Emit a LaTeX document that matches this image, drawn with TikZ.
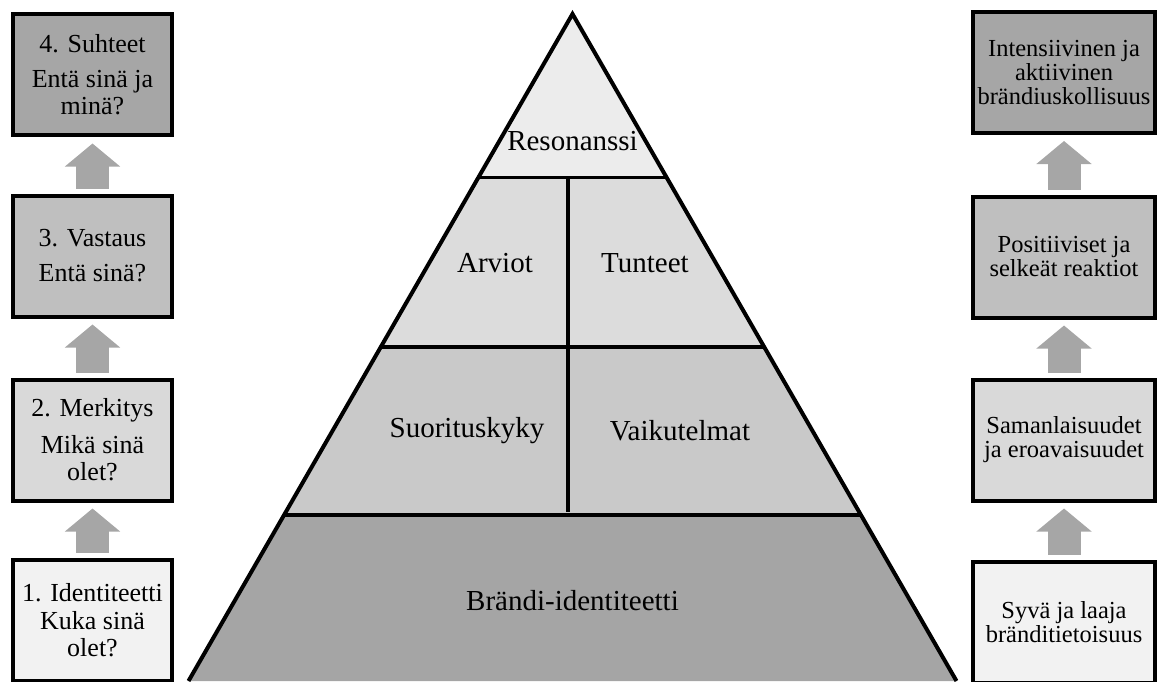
\documentclass[tikz,border=0pt]{standalone}
\usepackage{fontspec}
\setmainfont{Liberation Serif}
\usetikzlibrary{calc,arrows.meta}

\definecolor{shadeA}{HTML}{F2F2F2}
\definecolor{shadeB}{HTML}{D9D9D9}
\definecolor{shadeC}{HTML}{BFBFBF}
\definecolor{shadeD}{HTML}{A6A6A6}
\definecolor{pyrA}{HTML}{ECECEC}
\definecolor{pyrB}{HTML}{DCDCDC}
\definecolor{pyrC}{HTML}{C9C9C9}
\definecolor{pyrD}{HTML}{A5A5A5}

\begin{document}
\begin{tikzpicture}[x=1pt,y=-1pt,
  stage/.style={draw,line width=4pt,minimum width=159pt,minimum height=121pt,inner sep=0pt,align=center,font=\fontsize{26}{27}\selectfont},
  result/.style={stage,minimum width=182pt,font=\fontsize{24.5}{24}\selectfont},
  uparrow/.style={shadeD,line width=33pt,-{Triangle[width=54pt,length=23pt]},shorten <=5pt,shorten >=6pt},
  level/.style={font=\fontsize{29}{32}\selectfont}]
\useasboundingbox (0,0) rectangle (1159,682);

\begin{scope}
\coordinate (A) at (572.5,14);
\coordinate (BL) at (188.5,681);
\coordinate (BR) at (956.5,681);

\coordinate (L1) at ($(A)!.245!(BL)$);
\coordinate (R1) at ($(A)!.245!(BR)$);
\coordinate (L2) at ($(A)!.499!(BL)$);
\coordinate (R2) at ($(A)!.499!(BR)$);
\coordinate (L3) at ($(A)!.751!(BL)$);
\coordinate (R3) at ($(A)!.751!(BR)$);
\coordinate (D1) at (568,178);
\coordinate (D2) at (568,512);

\fill[pyrA] (A) -- (L1) -- (R1) -- cycle;
\fill[pyrB] (L1) -- (L2) -- (R2) -- (R1) -- cycle;
\fill[pyrC] (L2) -- (L3) -- (R3) -- (R2) -- cycle;
\fill[pyrD] (L3) -- (BL) -- (BR) -- (R3) -- cycle;

\draw[line width=4pt] (BL) -- (A) -- (BR);
\draw[line width=3.5pt] (L1) -- (R1);
\draw[line width=3.5pt] (L2) -- (R2);
\draw[line width=3.5pt] (L3) -- (R3);
\draw[line width=3.5pt] (D1) -- (D2);

\node[level] (reso) at (572.5,141) {Resonanssi};
\node[level] (arvi) at (495,263) {Arviot};
\node[level] (tunt) at (645,263) {Tunteet};
\node[level] (suor) at (467,431) {Suorituskyky};
\node[level] (vaik) at (680,431) {Vaikutelmat};
\node[level] (iden) at (572.5,601) {Brändi-identiteetti};
\end{scope}

\node[stage,fill=shadeA] (l1) at (92.5,620) {1. Identiteetti\\[1pt]Kuka sinä\\olet?};
\node[stage,fill=shadeB] (l2) at (92.5,440) {2. Merkitys\\[10pt]Mikä sinä\\olet?};
\node[stage,fill=shadeC] (l3) at (92.5,256) {3. Vastaus\\[8pt]Entä sinä?};
\node[stage,fill=shadeD] (l4) at (92.5,75) {4. Suhteet\\[8pt]Entä sinä ja\\minä?};

\node[result,fill=shadeA] (r1) at (1064,622) {Syvä ja laaja\\bränditietoisuus};
\node[result,fill=shadeB] (r2) at (1064,440) {Samanlaisuudet\\ja eroavaisuudet};
\node[result,fill=shadeC] (r3) at (1064,257) {Positiiviset ja\\selkeät reaktiot};
\node[result,fill=shadeD] (r4) at (1064,72.5) {Intensiivinen ja\\aktiivinen\\brändiuskollisuus};

\draw[uparrow] (l1) -- (l2);
\draw[uparrow] (l2) -- (l3);
\draw[uparrow] (l3) -- (l4);
\draw[uparrow] (r1) -- (r2);
\draw[uparrow] (r2) -- (r3);
\draw[uparrow] (r3) -- (r4);

\end{tikzpicture}
\end{document}
